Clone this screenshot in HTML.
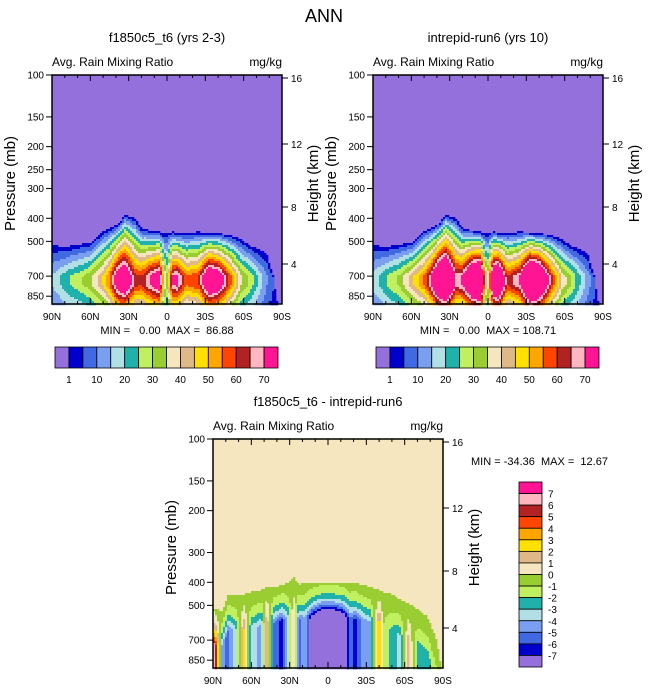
<!DOCTYPE html>
<html><head><meta charset="utf-8"><style>
body{margin:0;background:#fff;font-family:"Liberation Sans",sans-serif}
svg text{font-family:"Liberation Sans",sans-serif;fill:#000;white-space:pre}
</style></head><body>
<svg id="s" width="648" height="694" viewBox="0 0 648 694" xmlns="http://www.w3.org/2000/svg">
<text x="324" y="22" font-size="18" text-anchor="middle">ANN</text>
</svg>
<script>
// ---- data ----
const lats = [90, 85, 80, 75, 70, 60, 50, 45, 38, 33, 25, 20, 12, 6, 2, 0, -4, -8, -15, -25, -33, -40, -50, -58, -65, -72, -78, -83, -88, -90];
const topP = [515, 520, 525, 520, 515, 505, 450, 440, 420, 385, 400, 440, 450, 455, 465, 460, 455, 460, 460, 455, 460, 462, 470, 490, 520, 540, 560, 700, 1000, 1000];
const peak1 = [15, 18, 22, 25, 27, 33, 45, 55, 80, 85, 62, 60, 72, 78, 40, 32, 70, 72, 55, 60, 86, 80, 55, 35, 28, 18, 10, 5, 0, 0];
const peak2 = [17, 20, 24, 28, 30, 42, 55, 68, 95, 100, 68, 70, 95, 100, 45, 38, 90, 95, 60, 70, 105, 95, 60, 38, 30, 20, 12, 6, 0, 0];
const levels1 = [1, 5, 10, 15, 20, 25, 30, 35, 40, 45, 50, 55, 60, 65, 70];
const colors1 = ["#9370db","#0000cd","#4169e1","#7b9ff0","#b0e0e6","#20b2aa","#c0f060","#9acd32","#f5e6c0","#deb887","#ffe000","#ffa500","#ff4500","#b22222","#ffb6c1","#ff1493"];
const tickLabels1 = ["1","10","20","30","40","50","60","70"];
const dLats = [90, 87, 83, 78, 72, 66, 60, 52, 48, 42, 36, 31, 27, 23, 18, 12, 5, 0, -5, -12, -17, -22, -28, -33, -40, -44, -50, -56, -63, -70, -78, -85, -90];
const dTop = [518, 518, 530, 450, 450, 450, 440, 430, 420, 420, 410, 400, 380, 410, 400, 400, 400, 400, 400, 400, 400, 405, 410, 420, 430, 440, 450, 470, 490, 520, 560, 700, 1000];
const dVal = [8, 5, -4, -5, -3, 3, -3, -4, 3, -5, -6, -3, 2, -5, -4, -8, -11, -11, -11, -9, -5, -6, -4, -4, 4, -1, -2, -3, 2, -2, -2, -1, 0];
const levels2 = [-7,-6,-5,-4,-3,-2,-1,0,1,2,3,4,5,6,7];
const colors2 = ["#9370db","#0000cd","#4169e1","#7b9ff0","#b0e0e6","#20b2aa","#c0f060","#9acd32","#f5e6c0","#deb887","#ffe000","#ffa500","#ff4500","#b22222","#ffb6c1","#ff1493"];
const tickLabels2 = ["7","6","5","4","3","2","1","0","-1","-2","-3","-4","-5","-6","-7"];
const pTicks = [100,150,200,250,300,400,500,700,850];
const pTicks3 = [100,150,200,300,400,500,700,850];
const hTicks = [16,12,8,4];
const latTicks = [90,60,30,0,-30,-60,-90];
const latLabels = ["90N","60N","30N","0","30S","60S","90S"];

const NS="http://www.w3.org/2000/svg";
const svg=document.getElementById('s');
function el(t,a,p){const e=document.createElementNS(NS,t);for(const k in a)e.setAttribute(k,a[k]);(p||svg).appendChild(e);return e;}
function interp(xs,ys,x){for(let i=0;i<xs.length-1;i++){const a=xs[i],b=xs[i+1];if((x<=a&&x>=b)){const t=(a===b)?0:(a-x)/(a-b);return ys[i]+t*(ys[i+1]-ys[i]);}}return ys[ys.length-1];}
function colorFor(v,lev,cols){let i=0;while(i<lev.length&&v>=lev[i])i++;return cols[i];}
const W=230,H=229;
function xs(x0,lat){return x0+(90-lat)/180*W;}
function ys(y0,p){return y0+238*Math.log10(p/100);}
function pOf(y0,y){return 100*Math.pow(10,(y-y0)/238);}

function axes(g,x0,y0,title,ticks){
  let t=el('text',{x:x0+W/2,y:y0-33,'font-size':13,'text-anchor':'middle'},g);t.textContent=title;
  
  t=el('text',{x:x0,y:y0-9,'font-size':12},g);t.textContent='Avg. Rain Mixing Ratio';
  
  t=el('text',{x:x0+W,y:y0-9,'font-size':12,'text-anchor':'end'},g);t.textContent='mg/kg';
  
  el('rect',{x:x0,y:y0,width:W,height:H,fill:'none',stroke:'#000','stroke-width':1.5},g);
  for(const p of ticks){const y=ys(y0,p);el('line',{x1:x0-6,x2:x0,y1:y,y2:y,stroke:'#000'},g);
    const l=el('text',{x:x0-8,y:y+3.5,'font-size':10,'text-anchor':'end'},g);l.textContent=p;
    }
  const yl=el('text',{x:0,y:0,'font-size':15,'text-anchor':'middle',transform:`translate(${x0-37},${y0+H/2-6}) rotate(-90)`},g);yl.textContent='Pressure (mb)';
  
  const hy={16:3,12:69,8:132,4:189};
  for(const h of hTicks){const y=y0+hy[h];el('line',{x1:x0+W,x2:x0+W+6,y1:y,y2:y,stroke:'#000'},g);
    const l=el('text',{x:x0+W+9,y:y+4,'font-size':10},g);l.textContent=h;
    }
  const hl=el('text',{x:0,y:0,'font-size':15,'text-anchor':'middle',transform:`translate(${x0+W+36},${y0+H/2-6}) rotate(-90)`},g);hl.textContent='Height (km)';
  
  for(let lat=90;lat>=-90;lat-=10){const x=xs(x0,lat);const big=lat%30===0;
    el('line',{x1:x,x2:x,y1:y0,y2:y0+(big?6:3),stroke:'#000'},g);
    el('line',{x1:x,x2:x,y1:y0+H,y2:y0+H-(big?6:3),stroke:'#000'},g);}
  latTicks.forEach((lat,i)=>{const l=el('text',{x:xs(x0,lat),y:y0+H+16,'font-size':10,'text-anchor':'middle'},g);l.textContent=latLabels[i];
    });
}

function field(g,x0,y0,bg,fn,lev,cols){
  el('rect',{x:x0,y:y0,width:W,height:H,fill:bg},g);
  const cw=2,ch=2;
  for(let cx=0;cx<W;cx+=cw){
    const lat=90-(cx+cw/2)/W*180;
    for(let cy=0;cy<H;cy+=ch){
      const p=pOf(y0,y0+cy+ch/2);
      const v=fn(lat,p);
      if(v===null)continue;
      const c=colorFor(v,lev,cols);
      if(c===bg)continue;
      const r=el('rect',{x:x0+cx,y:y0+cy,width:cw+0.3,height:ch+0.3,fill:c},g);
      
      
    }
  }
}
function topFn(peaks){return (lat,p)=>{
  const tp=interp(lats,topP,lat);if(p<tp)return null;
  const pk=interp(lats,peaks,lat);
  const a=Math.log(p/tp),b=Math.log(700/tp);
  let f=b>0?Math.min(a/b,1):1;
  if(p>760)f=1-0.4*Math.log(p/760)/Math.log(916/760);
  return 0.5+pk*Math.pow(Math.max(f,0),0.9);
};}
function diffFn(lat,p){
  const tp=interp(dLats,dTop,lat);if(p<tp)return null;
  const d=interp(dLats,dVal,lat);
  const a=Math.log(p/tp);let f=Math.min(a/0.35,1);
  return d*(0.05+0.95*f*f)-0.4;
}
function colorbarH(g,x0,y0,w,h,cols,labels){
  const bw=w/cols.length;
  cols.forEach((c,i)=>{const r=el('rect',{x:x0+i*bw,y:y0,width:bw,height:h,fill:c,stroke:'#000','stroke-width':0.8},g);
    });
  labels.forEach((s,i)=>{const l=el('text',{x:x0+(1+2*i)*bw,y:y0+h+15,'font-size':10,'text-anchor':'middle'},g);l.textContent=s;
    });
}
function colorbarV(g,x0,y0,w,h,cols,labels){
  const bh=h/cols.length;
  cols.slice().reverse().forEach((c,i)=>{const r=el('rect',{x:x0,y:y0+i*bh,width:w,height:bh,fill:c,stroke:'#000','stroke-width':0.8},g);
    });
  labels.forEach((s,i)=>{const l=el('text',{x:x0+w+6,y:y0+(i+1)*bh+4,'font-size':10},g);l.textContent=s;
    });
}

let g1=el('g',{});
field(g1,52,75,colors1[0],topFn(peak1),levels1,colors1);
axes(g1,52,75,'f1850c5_t6 (yrs 2-3)',pTicks);
let m=el('text',{x:167,y:334,'font-size':11,'text-anchor':'middle'},g1);m.textContent='MIN =   0.00  MAX =  86.88';

colorbarH(g1,55,347,223,21,colors1,tickLabels1);

let g2=el('g',{});
field(g2,373,75,colors1[0],topFn(peak2),levels1,colors1);
axes(g2,373,75,'intrepid-run6 (yrs 10)',pTicks);
m=el('text',{x:488,y:334,'font-size':11,'text-anchor':'middle'},g2);m.textContent='MIN =   0.00  MAX = 108.71';

colorbarH(g2,376,347,223,21,colors1,tickLabels1);

let g3=el('g',{});
field(g3,213,439,colors2[8],diffFn,levels2,colors2);
axes(g3,213,439,'f1850c5_t6 - intrepid-run6',pTicks3);
m=el('text',{x:471,y:465,'font-size':11},g3);m.textContent='MIN = -34.36  MAX =  12.67';

colorbarV(g3,519,482,23,185,colors2,tickLabels2);
</script>
</body></html>
